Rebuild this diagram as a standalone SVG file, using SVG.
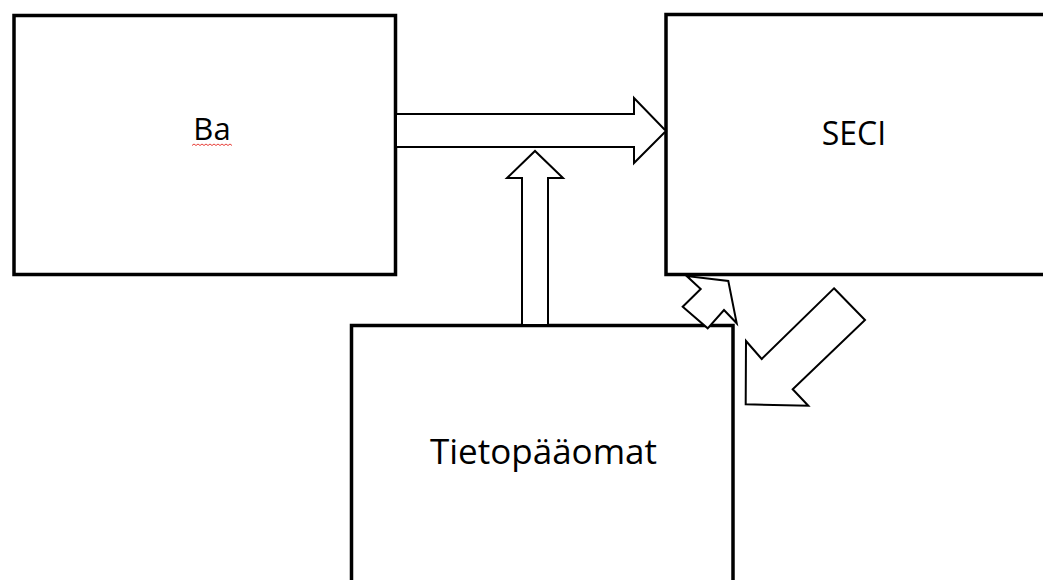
<svg xmlns="http://www.w3.org/2000/svg" width="1043" height="580" viewBox="0 0 1043 580">
  <style>
    .box { fill: #ffffff; stroke: #000000; stroke-width: 3.5; }
    .arrow { fill: #ffffff; stroke: #000000; stroke-width: 2; stroke-linejoin: miter; }
    .label { font-family: "Open Sans", "Liberation Sans", sans-serif; fill: #000000; text-anchor: middle; }
    .squiggle { fill: none; stroke: #e8403a; stroke-width: 1; }
  </style>
  <rect width="1043" height="580" fill="#ffffff"/>

  <g id="node-ba">
    <rect class="box" x="14" y="15.5" width="381.5" height="259"/>
    <text class="label" x="212" y="140" font-size="31">Ba</text>
    <path class="squiggle" d="M192,145.5 l2,-1.5 l2,1.5 l2,-1.5 l2,1.5 l2,-1.5 l2,1.5 l2,-1.5 l2,1.5 l2,-1.5 l2,1.5 l2,-1.5 l2,1.5 l2,-1.5 l2,1.5 l2,-1.5 l2,1.5 l2,-1.5 l2,1.5 l2,-1.5 l2,1.5"/>
  </g>

  <g id="node-seci">
    <rect class="box" x="666" y="14.5" width="400" height="260"/>
    <text class="label" x="854" y="145" font-size="32">SECI</text>
  </g>

  <g id="node-tietopaaomat">
    <rect class="box" x="351.5" y="325.5" width="381.5" height="280"/>
    <text class="label" x="543.5" y="464" font-size="35">Tietopääomat</text>
  </g>

  <g id="connectors">
    <!-- Ba to SECI -->
    <polygon class="arrow" points="396,114 634,114 634,98 666,131 634,163 634,147 396,147"/>
    <!-- Tietopääomat up into the Ba-SECI flow -->
    <polygon class="arrow" points="522,325 522,178 507,178 535,151 563,178 548,178 548,325"/>
    <!-- small block arrow toward SECI -->
    <polygon class="arrow" points="728.3,281 736.7,323.3 724,310 707.7,328.3 682.7,306.7 700.7,289 686.7,276"/>
    <!-- large block arrow from SECI side down toward Tietopääomat -->
    <polygon class="arrow" points="834,288.3 865,320 792.7,389.3 808.3,405.7 745.7,404.3 746,341 761.7,359"/>
  </g>
</svg>
